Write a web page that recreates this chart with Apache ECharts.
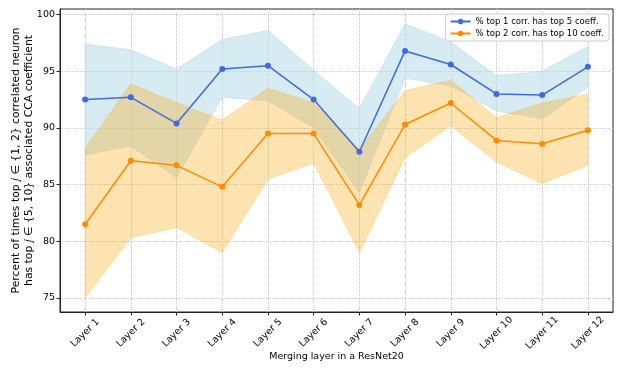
<!DOCTYPE html>
<html>
<head>
<meta charset="utf-8">
<script src="https://cdn.jsdelivr.net/npm/echarts@6/dist/echarts.min.js"></script>
<style>
html,body{margin:0;padding:0;background:#fff;}
#main{width:623px;height:374px;}
</style>
</head>
<body>
<div id="main"></div>
<script>
var layers = ['Layer 1','Layer 2','Layer 3','Layer 4','Layer 5','Layer 6','Layer 7','Layer 8','Layer 9','Layer 10','Layer 11','Layer 12'];
var yTicks = [75,80,85,90,95,100];

// top 1 corr. has top 5 coeff.
var top1Mean  = [92.5, 92.7, 90.4, 95.2, 95.5, 92.5, 87.9, 96.8, 95.6, 93.0, 92.9, 95.4];
var top1Upper = [97.4, 96.9, 95.2, 97.8, 98.6, 95.1, 91.7, 99.2, 97.6, 94.6, 95.0, 97.2];
var top1Lower = [87.6, 88.4, 85.6, 92.7, 92.4, 90.0, 84.3, 94.4, 93.7, 91.5, 90.8, 93.6];

// top 2 corr. has top 10 coeff.
var top2Mean  = [81.5, 87.1, 86.7, 84.8, 89.5, 89.5, 83.2, 90.3, 92.2, 88.9, 88.6, 89.8];
var top2Upper = [88.2, 93.9, 92.2, 90.7, 93.5, 92.2, 88.1, 93.3, 94.2, 90.9, 92.2, 93.0];
var top2Lower = [75.0, 80.3, 81.2, 79.0, 85.5, 86.9, 79.0, 87.4, 90.2, 87.0, 85.1, 86.7];

var name1 = '% top 1 corr. has top 5 coeff.';
var name2 = '% top 2 corr. has top 10 coeff.';

function pts(arr){
	var out = [];
	for(var i=0;i<arr.length;i++){ out.push([i, arr[i]]); }
	return out;
}

// 填充区间 (fill_between)
function band(lo, up, fill, edge){
	return {
		type:'custom', silent:true, z:1,
		data:pts(lo),
		encode:{x:0, y:1},
		renderItem:function(params, api){
			if(params.dataIndex !== 0) return;
			var points = [];
			for(var i=0;i<up.length;i++){ points.push(api.coord([i, up[i]])); }
			for(var j=lo.length-1;j>=0;j--){ points.push(api.coord([j, lo[j]])); }
			return {
				type:'polygon',
				shape:{points:points},
				style:{fill:fill, stroke:edge, lineWidth:0.8}
			};
		}
	};
}

var myChart = echarts.init(document.getElementById('main'), null, {renderer:'canvas'});
var fontFam = 'DejaVu Sans';
var option = {
	animation:false,
	textStyle:{fontFamily:fontFam},
	grid:{left:60, right:10, top:9, bottom:62, show:true, borderColor:'#222', borderWidth:1,
		containLabel:false, outerBoundsMode:'none'},
	legend:{
		data:[name1, name2], orient:'vertical', right:14, top:14,
		itemWidth:20, itemHeight:7, itemGap:3,
		backgroundColor:'rgba(255,255,255,0.85)', borderColor:'#ccc', borderWidth:1, borderRadius:3,
		padding:[3,5,3,4],
		textStyle:{fontSize:8.5, color:'#000', fontFamily:fontFam}
	},
	xAxis:{
		type:'value', min:-0.55, max:11.55,
		name:'Merging layer in a ResNet20', nameLocation:'middle', nameGap:40, nameMoveOverlap:false,
		nameTextStyle:{fontSize:9.5, color:'#000'},
		axisLine:{onZero:false, lineStyle:{color:'#222'}},
		axisTick:{customValues:[0,1,2,3,4,5,6,7,8,9,10,11], length:3.5, lineStyle:{color:'#222'}},
		axisLabel:{customValues:[0,1,2,3,4,5,6,7,8,9,10,11], rotate:45, fontSize:9.5, color:'#000',
			align:'center', verticalAlign:'middle', margin:21, hideOverlap:false,
			formatter:function(v){ return layers[Math.round(v)]; }},
		splitLine:{show:true, lineStyle:{color:'#ccc', type:'dotted'}}
	},
	yAxis:{
		type:'value', min:73.75, max:100.5,
		name:'Percent of times top {i|j} ∈ {1, 2} correlated neuron\nhas top {i|j} ∈ {5, 10} associated CCA coefficient',
		nameLocation:'middle', nameGap:24, nameMoveOverlap:false,
		nameTextStyle:{fontSize:10.8, color:'#000', lineHeight:13, align:'center',
			rich:{i:{fontStyle:'italic', fontSize:10.8, color:'#000'}}},
		axisLine:{show:true, onZero:false, lineStyle:{color:'#222'}},
		axisTick:{show:true, customValues:yTicks, length:3.5, lineStyle:{color:'#222'}},
		axisLabel:{customValues:yTicks, fontSize:9.5, color:'#000', margin:5},
		splitLine:{show:true, lineStyle:{color:'#ccc', type:'dotted'}}
	},
	series:[
		band(top1Lower, top1Upper, 'rgba(173,216,230,0.5)', 'rgba(173,216,230,0.6)'),
		band(top2Lower, top2Upper, 'rgba(255,165,0,0.3)', 'rgba(255,165,0,0.35)'),
		{
			name:name1, type:'line', data:pts(top1Mean), symbol:'circle', symbolSize:6,
			itemStyle:{color:'#4169E1'}, lineStyle:{color:'#4169E1', width:1.5}, z:5
		},{
			name:name2, type:'line', data:pts(top2Mean), symbol:'circle', symbolSize:6,
			itemStyle:{color:'#FF8C00'}, lineStyle:{color:'#FF8C00', width:1.5}, z:5
		}
	]
};
myChart.setOption(option);
</script>
</body>
</html>
